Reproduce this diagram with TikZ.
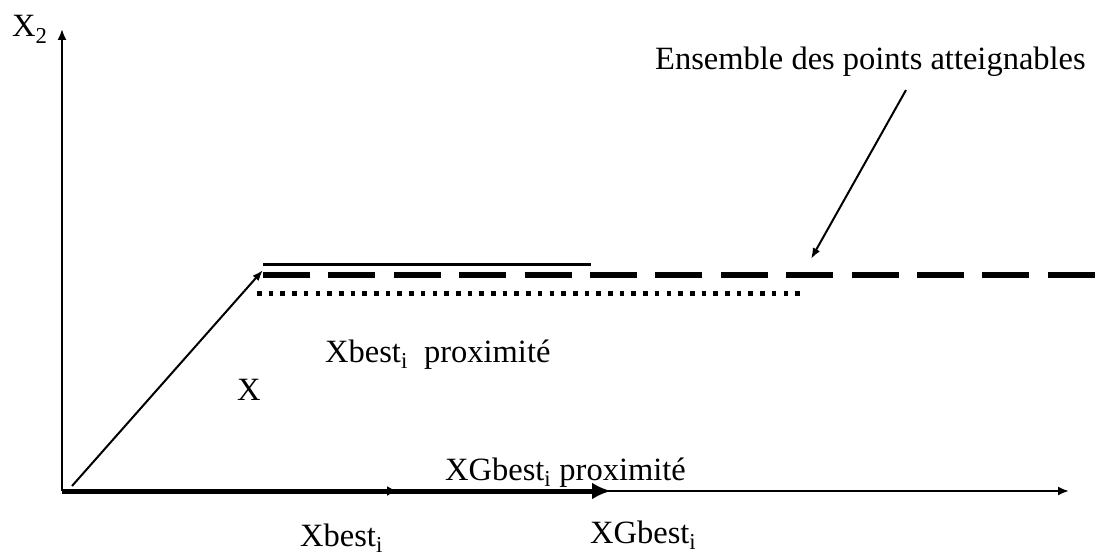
\documentclass[tikz,border=0pt]{standalone}
\usepackage{fontspec}
\setmainfont{Liberation Serif}
\usetikzlibrary{arrows.meta}
\begin{document}
\begin{tikzpicture}[x=1pt,y=-1pt,
  lbl/.style={inner sep=0pt, anchor=base west, font=\fontsize{32.5}{38}\selectfont},
  axis/.style={line width=2pt, -{Latex[length=11pt,width=9pt]}},
  thin arrow/.style={line width=2pt, -{Latex[length=11pt,width=8pt]}},
  big arrow/.style={line width=5pt, -{Latex[length=19pt,width=17pt]}}]
\useasboundingbox (0,0) rectangle (1109,559);

% key points
\coordinate (O) at (62,491);
\coordinate (ytop) at (62,29);
\coordinate (xend) at (1069,491);
\coordinate (xb) at (397,491);
\coordinate (xg) at (611,491);
\coordinate (dstart) at (72,486);
\coordinate (dend) at (263,270);
\coordinate (solidA) at (263,264);
\coordinate (solidB) at (591,264);
\coordinate (dashA) at (263,275);
\coordinate (dashB) at (1109,275);
\coordinate (dotA) at (257,293);
\coordinate (dotB) at (803,293);
\coordinate (ptrA) at (906,90);
\coordinate (ptrB) at (811,259);

% axes
\draw[axis] (O) -- (ytop);
\draw[axis] (O) -- (xend);

% vectors along the horizontal axis
\draw[big arrow] (O) -- (xg);
\draw[line width=1.5pt, -{Latex[length=10pt,width=10pt]}] (O) -- (xb);

% displacement towards the set
\draw[thin arrow] (dstart) -- (dend);

% horizontal levels
\draw[line width=3pt] (solidA) -- (solidB);
\draw[line width=5.5pt, dash pattern=on 47pt off 18.4pt] (dashA) -- (dashB);
\draw[line width=5pt, dash pattern=on 4.6pt off 7.1pt] (dotA) -- (dotB);

% pointer to the set of reachable points
\draw[thin arrow] (ptrA) -- (ptrB);

% labels
\node[lbl] (lx2) at (12,37) {X\textsubscript{2}};
\node[lbl] (lens) at (655,70) {Ensemble des points atteignables};
\node[lbl] (lxbp) at (325,362) {Xbest\textsubscript{i}\ \ proximité};
\node[lbl] (lx) at (237,400) {X};
\node[lbl] (lxgp) at (445,480) {XGbest\textsubscript{i} proximité};
\node[lbl] (lxg) at (590,543) {XGbest\textsubscript{i}};
\node[lbl] (lxb) at (300,546) {Xbest\textsubscript{i}};
\end{tikzpicture}
\end{document}
